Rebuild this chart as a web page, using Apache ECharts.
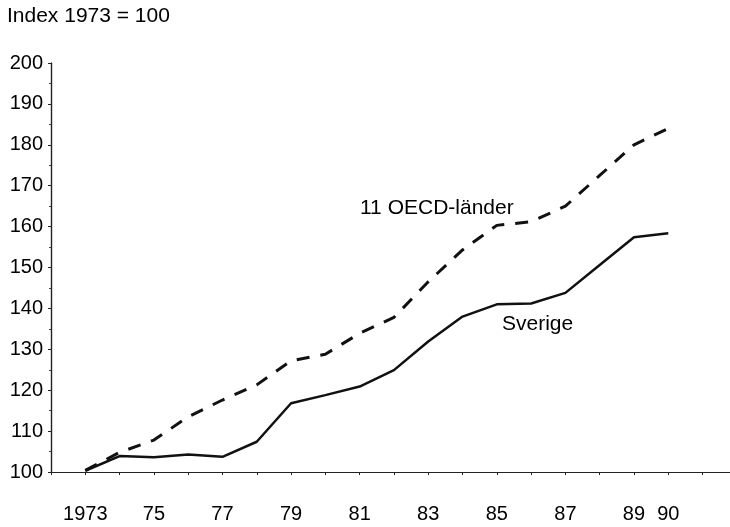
<!DOCTYPE html>
<html>
<head>
<meta charset="utf-8">
<script src="https://cdn.jsdelivr.net/npm/echarts@6/dist/echarts.min.js"></script>
<style>
html,body{margin:0;padding:0;background:#fff;}
#c{width:730px;height:527px;}
</style>
</head>
<body>
<div id="c"></div>
<script>
const years = [1973,1974,1975,1976,1977,1978,1979,1980,1981,1982,1983,1984,1985,1986,1987,1988,1989,1990];
const sverige = [100.3,103.9,103.6,104.3,103.7,107.4,116.8,118.8,120.9,124.9,131.9,138.0,141.0,141.2,143.8,150.6,157.4,158.4];
const oecd = [100.4,104.8,107.8,113.5,117.6,121.3,127.2,128.8,133.9,137.8,146.5,154.3,160.3,161.2,165.0,172.5,180.0,184.0];
const xLabelYears = [1973,1975,1977,1979,1981,1983,1985,1987,1989,1990];
const yTicks = [100,110,120,130,140,150,160,170,180,190,200];
const yAxisTitle = 'Index 1973 = 100';
const labelOecd = '11 OECD-länder';
const labelSverige = 'Sverige';

const font = '"Liberation Sans", Arial, Helvetica, sans-serif';
const chart = echarts.init(document.getElementById('c'));
chart.setOption({
  animation: false,
  backgroundColor: '#fff',
  grid: {left: 51, right: 0, top: 63, bottom: 55, containLabel: false},
  xAxis: {
    type: 'value', min: 1972, max: 1991.8, interval: 1,
    axisLine: {show: true, lineStyle: {color: '#222', width: 1.2}},
    axisTick: {show: true, length: 3, lineStyle: {color: '#222', width: 1}},
    splitLine: {show: false},
    axisLabel: {
      margin: 32, color: '#000', fontSize: 20, fontFamily: font,
      showMinLabel: true, showMaxLabel: false,
      formatter: function (v) {
        if (xLabelYears.indexOf(v) < 0) return '';
        return v === 1973 ? String(v) : String(v).slice(2);
      }
    }
  },
  yAxis: {
    type: 'value', min: yTicks[0], max: yTicks[yTicks.length-1], interval: 10,
    axisLine: {show: true, lineStyle: {color: '#222', width: 1.4}},
    axisTick: {show: true, length: 3, lineStyle: {color: '#222', width: 1}},
    minorTick: {show: true, splitNumber: 2, length: 2, lineStyle: {color: '#444'}},
    splitLine: {show: false},
    axisLabel: {margin: 8, color: '#000', fontSize: 20, fontFamily: font}
  },
  series: [
    {
      name: labelOecd, type: 'line', symbol: 'none',
      data: years.map((y,i)=>[y, oecd[i]]),
      lineStyle: {color: '#111', width: 3, type: [13, 11]}
    },
    {
      name: labelSverige, type: 'line', symbol: 'none',
      data: years.map((y,i)=>[y, sverige[i]]),
      lineStyle: {color: '#111', width: 2.5}
    }
  ],
  graphic: [
    {type: 'text', left: 7, top: 6, style: {text: yAxisTitle, fill: '#000', font: '21px ' + font}},
    {type: 'text', left: 360, top: 198, style: {text: labelOecd, fill: '#000', font: '21px ' + font}},
    {type: 'text', left: 502, top: 314, style: {text: labelSverige, fill: '#000', font: '21px ' + font}}
  ]
});
</script>
</body>
</html>
